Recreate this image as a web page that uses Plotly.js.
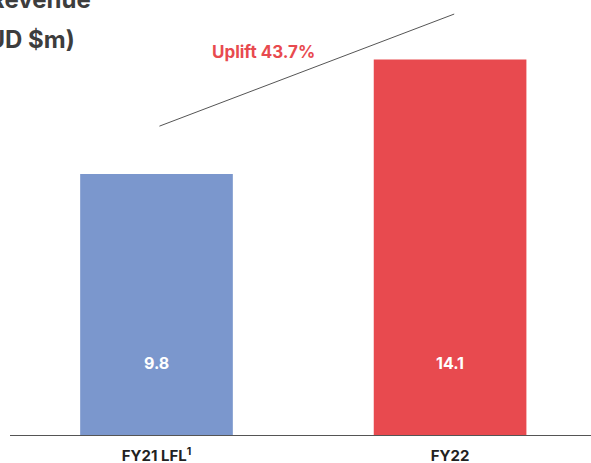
<!DOCTYPE html>
<html>
<head>
<meta charset="utf-8">
<script src="https://cdn.plot.ly/plotly-3.0.1.min.js"></script>
<style>
  html, body { margin: 0; padding: 0; background: #ffffff; }
  #chart { width: 591px; height: 463px; }
</style>
</head>
<body>
<div id="chart"></div>
<script>
// Revenue by period (AUD $m)
const categories = ['FY21 LFL<sup>1</sup>', 'FY22'];
const revenue = [9.8, 14.1];
const barColors = ['#7B97CD', '#E84A4F'];
const upliftLabel = 'Uplift 43.7%';
const titleLines = ['Revenue', '(AUD $m)'];

const FONT = 'Inter, "Open Sans", Roboto, sans-serif';
const xIdx = categories.map((_, i) => i);

const trace = {
  type: 'bar',
  x: xIdx,
  y: revenue,
  width: 0.52,
  marker: { color: barColors, line: { width: 0 } },
  hoverinfo: 'skip'
};

// value labels sit near the foot of each bar
const valueNotes = revenue.map((v, i) => ({
  x: i, y: 2.7, xref: 'x', yref: 'y',
  text: v.toFixed(1), showarrow: false,
  font: { family: FONT, size: 16, color: '#ffffff', weight: 700 }
}));

const layout = {
  width: 591,
  height: 463,
  margin: { l: 10, r: 0, t: 9, b: 28 },
  paper_bgcolor: '#ffffff',
  plot_bgcolor: '#ffffff',
  showlegend: false,
  xaxis: {
    range: [-0.499, 1.48],
    tickvals: xIdx,
    ticktext: categories,
    ticks: '',
    ticklabelstandoff: 7,
    showgrid: false,
    zeroline: false,
    showline: true,
    linecolor: '#555555',
    linewidth: 1,
    tickfont: { family: FONT, size: 15, color: '#222222', weight: 700 },
    fixedrange: true
  },
  yaxis: {
    range: [0, 16],
    visible: false,
    fixedrange: true
  },
  shapes: [{
    type: 'line', xref: 'x', yref: 'y',
    x0: 0.01, y0: 11.6, x1: 1.014, y1: 15.81,
    line: { color: '#555555', width: 1 }
  }],
  annotations: valueNotes.concat([
    {
      x: 0.363, y: 14.38, xref: 'x', yref: 'y',
      text: upliftLabel, showarrow: false,
      font: { family: FONT, size: 17, color: '#E84A4F', weight: 700 }
    },
    {
      x: 84 / 591, y: 1 - 8 / 463, xref: 'paper', yref: 'paper',
      xanchor: 'right', yanchor: 'bottom',
      text: titleLines[0], showarrow: false,
      font: { family: FONT, size: 24, color: '#3d3d3d', weight: 700 }
    },
    {
      x: 68 / 591, y: 1 - 43 / 463, xref: 'paper', yref: 'paper',
      xanchor: 'right', yanchor: 'bottom', yshift: -7,
      text: titleLines[1], showarrow: false,
      font: { family: FONT, size: 24, color: '#3d3d3d', weight: 700 }
    }
  ])
};

Plotly.newPlot('chart', [trace], layout, { displayModeBar: false, staticPlot: true });
</script>
</body>
</html>
